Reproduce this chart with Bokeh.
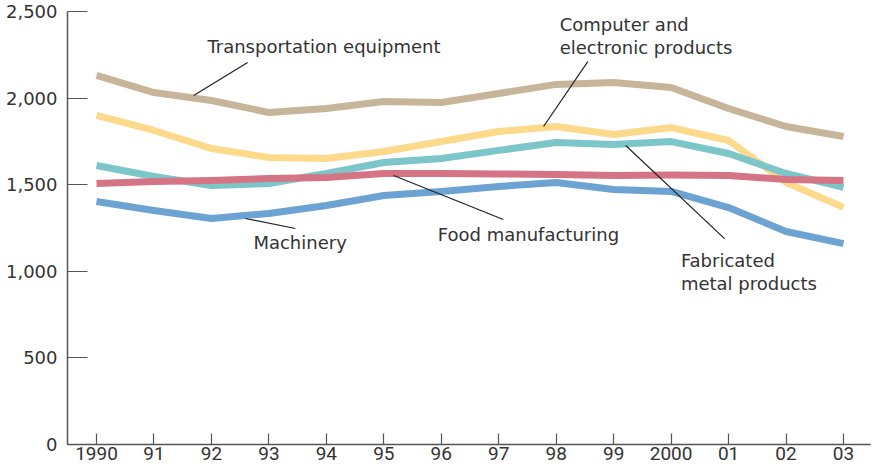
from bokeh.plotting import figure
from bokeh.models import ColumnDataSource, NumeralTickFormatter, FixedTicker, Range1d
from bokeh.core.properties import value
from bokeh.embed import file_html
from bokeh.resources import INLINE

years = [1990, 1991, 1992, 1993, 1994, 1995, 1996, 1997, 1998, 1999, 2000, 2001, 2002, 2003]
year_labels = ["1990", "91", "92", "93", "94", "95", "96", "97", "98", "99", "2000", "01", "02", "03"]

transportation = [2131, 2032, 1986, 1917, 1940, 1980, 1975, 2027, 2079, 2090, 2061, 1940, 1836, 1778]
computer = [1900, 1813, 1709, 1657, 1651, 1692, 1749, 1807, 1836, 1790, 1830, 1755, 1513, 1369]
fabricated = [1611, 1547, 1495, 1507, 1565, 1628, 1651, 1698, 1744, 1732, 1749, 1680, 1565, 1484]
food = [1507, 1519, 1524, 1536, 1542, 1565, 1565, 1562, 1559, 1553, 1556, 1553, 1530, 1524]
machinery = [1403, 1351, 1305, 1334, 1380, 1438, 1461, 1490, 1513, 1472, 1461, 1368, 1230, 1160]

y_ticks = [0, 500, 1000, 1500, 2000, 2500]

series = [
    (computer, "#fdd98b"),
    (fabricated, "#7cc5c9"),
    (food, "#d57485"),
    (machinery, "#6ca3d3"),
    (transportation, "#c7b599"),
]

# annotation labels (position in data space)
label_x = [1991.93, 1998.06, 1998.06, 1992.73, 1995.94, 2000.17, 2000.17]
label_y = [2298, 2425, 2292, 1166, 1212, 1062, 930]
label_text = ["Transportation equipment", "Computer and", "electronic products",
              "Machinery", "Food manufacturing", "Fabricated", "metal products"]

# leader lines
lead_x0 = [1992.63, 1998.55, 1992.59, 1995.17, 1999.21]
lead_y0 = [2206, 2211, 1305, 1553, 1726]
lead_x1 = [1991.69, 1997.78, 1993.46, 1997.08, 2000.93]
lead_y1 = [2015, 1836, 1247, 1299, 1189]

p = figure(width=875, height=466, output_backend="svg", toolbar_location=None,
           x_range=Range1d(1989.495, 2003.47), y_range=Range1d(0, 2500),
           min_border_left=67, min_border_top=11, min_border_right=5, min_border_bottom=22)
p.outline_line_color = None
p.grid.visible = False
p.background_fill_color = "white"
p.border_fill_color = "white"

for vals, col in series:
    p.line(years, vals, line_color=col, line_width=7, line_cap="butt", line_join="round")

p.segment(x0=lead_x0, y0=lead_y0, x1=lead_x1, y1=lead_y1, line_color="#222222", line_width=1.2)

src = ColumnDataSource(dict(x=label_x, y=label_y, t=label_text))
p.text(x="x", y="y", text="t", source=src, text_font=value("DejaVu Sans"),
       text_font_size="18px", text_color="#333333", text_baseline="middle", text_align="left")

ax = p.xaxis[0]
ax.ticker = FixedTicker(ticks=years)
ax.major_label_overrides = {y: l for y, l in zip(years, year_labels)}
ax.major_tick_in = 11
ax.major_tick_out = 0
ax.minor_tick_line_color = None
ax.axis_line_color = "#555555"
ax.axis_line_width = 1.5
ax.major_tick_line_color = "#555555"
ax.major_tick_line_width = 1.2
ax.major_label_standoff = 2
ax.major_label_text_font = "Roboto"
ax.major_label_text_font_size = "19px"
ax.major_label_text_color = "#333333"

ay = p.yaxis[0]
ay.ticker = FixedTicker(ticks=y_ticks)
ay.formatter = NumeralTickFormatter(format="0,0")
ay.major_tick_in = 20
ay.major_tick_out = 0
ay.minor_tick_line_color = None
ay.axis_line_color = "#555555"
ay.axis_line_width = 1.5
ay.major_tick_line_color = "#555555"
ay.major_tick_line_width = 1.2
ay.major_label_standoff = 10
ay.major_label_text_font = "DejaVu Sans"
ay.major_label_text_font_size = "18px"
ay.major_label_text_color = "#333333"

open("out.html", "w").write(file_html(p, INLINE))
